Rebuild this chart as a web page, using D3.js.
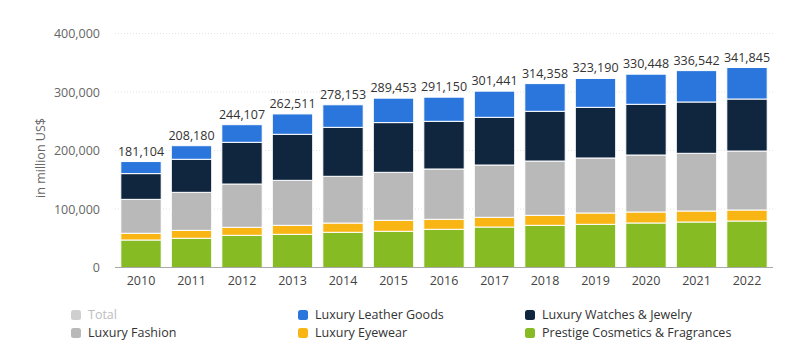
<!DOCTYPE html>
<html><head><meta charset="utf-8">
<script src="https://cdn.jsdelivr.net/npm/d3@7"></script>
<style>
body{margin:0;background:#fff;}
svg text{font-family:"Open Sans",sans-serif;}
</style></head>
<body><svg id="c" width="791" height="355"></svg>
<script>
const years = ["2010","2011","2012","2013","2014","2015","2016","2017","2018","2019","2020","2021","2022"];
const totals = [181104,208180,244107,262511,278153,289453,291150,301441,314358,323190,330448,336542,341845];
const cosmetics = [47000,50000,55000,56700,60200,61900,65300,69200,72100,73800,76100,77800,79500];
const eyewear = [11500,13500,13700,15400,15800,18800,17100,16600,17100,19400,18800,18800,18800];
const fashion = [58000,65000,74000,76900,79900,82000,86000,89400,92800,94000,97400,98600,100800];
const watches = [44000,56500,71300,78700,83700,85000,81500,81500,85000,86600,86700,87700,88900];
const leather = [20604,23180,30107,34811,38553,41753,41250,44741,47358,49390,51448,53642,53845];
const yTicks = [0,100000,200000,300000,400000];
const seriesNames = ["Prestige Cosmetics & Fragrances","Luxury Eyewear","Luxury Fashion","Luxury Watches & Jewelry","Luxury Leather Goods"];
const seriesColors = ["#86bb24","#f9b514","#b9b9b9","#10263f","#2a76dc"];
const seriesValues = [cosmetics,eyewear,fashion,watches,leather];

const svg = d3.select("#c");
const x = d3.scaleBand().domain(years).range([115,773]).paddingInner(0.2).paddingOuter(0.115);
const y = d3.scaleLinear().domain([0,400000]).range([267.5,33.5]);

// gridlines
svg.append("g").selectAll("line").data(yTicks.filter(d=>d>0)).join("line")
  .attr("x1",115).attr("x2",773).attr("y1",d=>y(d)).attr("y2",d=>y(d))
  .attr("stroke","#e2e2e2").attr("stroke-dasharray","1,2");

// y axis labels
const yAxis = d3.axisLeft(y).tickValues(yTicks).tickSize(0).tickPadding(0)
  .tickFormat(d3.format(","));
const ya = svg.append("g").attr("transform","translate(100,0)").call(yAxis);
ya.select(".domain").remove();
ya.selectAll("text").attr("fill","#666").style("font-size","12.5px").attr("font-family","Open Sans");

svg.append("text").attr("transform","translate(45,158) rotate(-90)")
  .attr("text-anchor","middle").attr("fill","#666").style("font-size","12.5px")
  .text("in million US$");

// stacked data
const rows = years.map((yr,i)=>{const o={year:yr}; seriesNames.forEach((s,j)=>o[s]=seriesValues[j][i]); return o;});
const stack = d3.stack().keys(seriesNames)(rows);
svg.append("g").selectAll("g").data(stack).join("g")
  .attr("fill",(d,i)=>seriesColors[i])
  .selectAll("rect").data(d=>d).join("rect")
  .attr("x",d=>x(d.data.year)).attr("width",x.bandwidth())
  .attr("y",d=>y(d[1])).attr("height",d=>y(d[0])-y(d[1]))
  .attr("stroke","#fff").attr("stroke-width",1);

// baseline
svg.append("line").attr("x1",115).attr("x2",773).attr("y1",y(0)).attr("y2",y(0))
  .attr("stroke","#a9a9a9").attr("stroke-width",1);

// x axis labels
const xAxis = d3.axisBottom(x).tickSize(0).tickPadding(0);
const xa = svg.append("g").attr("transform",`translate(0,${y(0)+9})`).call(xAxis);
xa.select(".domain").remove();
xa.selectAll("text").attr("fill","#444").style("font-size","12.5px").attr("font-family","Open Sans");

// total labels
svg.append("g").selectAll("text").data(years).join("text")
  .attr("x",d=>x(d)+x.bandwidth()/2)
  .attr("y",(d,i)=>y(totals[i])-6)
  .attr("text-anchor","middle").attr("fill","#333").style("font-size","12.5px")
  .text((d,i)=>d3.format(",")(totals[i]));

// legend
const legend = [
  {name:"Total",color:"#cfcfcf",text:"#bdbdbd",x:71,y:315},
  {name:"Luxury Leather Goods",color:seriesColors[4],text:"#333",x:298,y:315},
  {name:"Luxury Watches & Jewelry",color:seriesColors[3],text:"#333",x:525,y:315},
  {name:"Luxury Fashion",color:seriesColors[2],text:"#333",x:71,y:333},
  {name:"Luxury Eyewear",color:seriesColors[1],text:"#333",x:298,y:333},
  {name:"Prestige Cosmetics & Fragrances",color:seriesColors[0],text:"#333",x:525,y:333}
];
const lg = svg.append("g").selectAll("g").data(legend).join("g")
  .attr("transform",d=>`translate(${d.x},${d.y})`);
lg.append("rect").attr("x",0).attr("y",-5).attr("width",10).attr("height",10).attr("rx",2.5)
  .attr("fill",d=>d.color);
lg.append("text").attr("x",17).attr("y",0).attr("dy","0.35em")
  .attr("fill",d=>d.text).style("font-size","12.5px").text(d=>d.name);
</script></body></html>
